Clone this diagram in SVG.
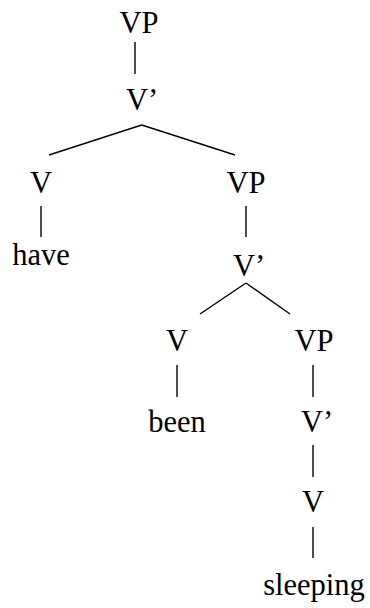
<svg xmlns="http://www.w3.org/2000/svg" width="370" height="608" viewBox="0 0 370 608">
<style>
text{font-family:"Liberation Serif","Times New Roman",serif;font-size:30.5px;fill:#000;text-anchor:middle}
line{stroke:#000;stroke-width:1.4}
</style>
<rect width="370" height="608" fill="#fff"/>
<g id="edges">
<line x1="135" y1="42" x2="135" y2="74"/>
<line x1="141.7" y1="125" x2="49" y2="155"/>
<line x1="141.7" y1="125" x2="235" y2="155"/>
<line x1="41" y1="206" x2="41" y2="237"/>
<line x1="246" y1="206" x2="246" y2="237"/>
<line x1="246" y1="283" x2="200" y2="314"/>
<line x1="246" y1="283" x2="290" y2="314"/>
<line x1="177" y1="365" x2="177" y2="397"/>
<line x1="313" y1="365" x2="313" y2="397"/>
<line x1="313" y1="445" x2="313" y2="477"/>
<line x1="313" y1="527" x2="313" y2="558"/>
</g>
<g id="n1"><text x="139" y="33">VP</text></g>
<g id="n2"><text x="142" y="110">V’</text></g>
<g id="n3"><text x="41" y="193">V</text></g>
<g id="n4"><text x="246" y="193">VP</text></g>
<g id="n5"><text x="41" y="265">have</text></g>
<g id="n6"><text x="249" y="276">V’</text></g>
<g id="n7"><text x="177" y="351">V</text></g>
<g id="n8"><text x="314" y="351">VP</text></g>
<g id="n9"><text x="177" y="432">been</text></g>
<g id="n10"><text x="317" y="432">V’</text></g>
<g id="n11"><text x="313" y="512">V</text></g>
<g id="n12"><text x="314" y="595">sleeping</text></g>
</svg>
